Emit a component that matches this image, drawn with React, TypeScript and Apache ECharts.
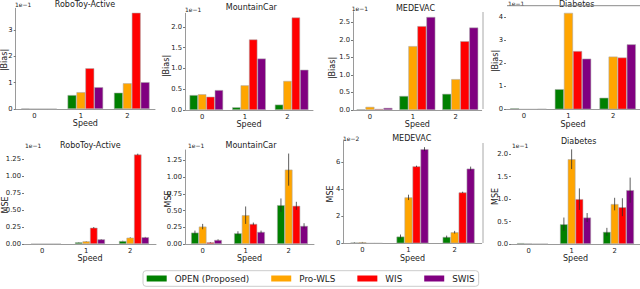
import React, { useEffect, useRef } from "react";
import * as echarts from "echarts";

const FONT = "DejaVu Sans";
const speeds = ["0", "1", "2"];
const methods = ["OPEN (Proposed)", "Pro-WLS", "WIS", "SWIS"];
const methodColors = ["#008000", "#ffa500", "#ff0000", "#800080"];

// |Bias| values (x 1e-1), rows = methods, columns = speeds
const roboToyBias = [[0.02, 0.53, 0.62], [0, 0.64, 0.98], [0, 1.55, 3.66], [0, 0.83, 1.02]];
const mountainCarBias = [[0.36, 0.065, 0.13], [0.38, 0.595, 0.7], [0.32, 1.7, 2.23], [0.48, 1.24, 0.97]];
const medevacBias = [[0.02, 0.4, 0.46], [0.09, 1.82, 0.88], [0.03, 2.39, 1.96], [0.06, 2.65, 2.35]];
const diabetesBias = [[0.04, 0.87, 0.5], [0, 4.17, 2.28], [0, 2.52, 2.24], [0.01, 2.19, 2.81]];

// MSE values and error half-widths
const roboToyMse = [[0, 0.025, 0.044], [0, 0.04, 0.093], [0, 0.24, 1.32], [0, 0.069, 0.1]];
const roboToyMseErr = [[0, 0.003, 0.004], [0, 0.003, 0.005], [0, 0.01, 0.012], [0, 0.004, 0.005]];
const mountainCarMse = [[0.17, 0.16, 0.58], [0.26, 0.43, 1.11], [0.025, 0.3, 0.57], [0.06, 0.18, 0.27]];
const mountainCarMseErr = [[0.03, 0.03, 0.1], [0.04, 0.13, 0.24], [0.005, 0.02, 0.06], [0.01, 0.02, 0.04]];
const medevacMse = [[0.05, 0.5, 0.47], [0.08, 3.4, 0.82], [0, 5.7, 3.77], [0, 6.97, 5.53]];
const medevacMseErr = [[0.02, 0.15, 0.1], [0.02, 0.2, 0.1], [0, 0.05, 0.05], [0, 0.15, 0.15]];
const diabetesMse = [[0.02, 0.44, 0.27], [0.01, 1.89, 0.89], [0, 1.0, 0.82], [0, 0.59, 1.2]];
const diabetesMseErr = [[0, 0.15, 0.09], [0, 0.22, 0.14], [0, 0.24, 0.2], [0, 0.1, 0.28]];

// y tick labels
const ticksInt4 = [0, 1, 2, 3];
const ticksHalf20 = [0, 0.5, 1, 1.5, 2];
const ticksHalf25 = [0, 0.5, 1, 1.5, 2, 2.5];
const ticksInt5 = [0, 1, 2, 3, 4];
const ticksQuarter = [0, 0.25, 0.5, 0.75, 1, 1.25];
const ticksEven = [0, 2, 4, 6];

const titles = ["RoboToy-Active", "MountainCar", "MEDEVAC", "Diabetes", "RoboToy-Active", "MountainCar", "MEDEVAC", "Diabetes"];
const yNames = ["|Bias|", "|Bias|", "|Bias|", "|Bias|", "MSE", "MSE", "MSE", "MSE"];
const scaleLabels = ["1e\u22121", "1e\u22121", "1e\u22121", "1e\u22121", "1e\u22121", "1e\u22121", "1e\u22122", "1e\u22121"];

const panelValues = [roboToyBias, mountainCarBias, medevacBias, diabetesBias, roboToyMse, mountainCarMse, medevacMse, diabetesMse];
const panelErrors = [null, null, null, null, roboToyMseErr, mountainCarMseErr, medevacMseErr, diabetesMseErr];
const panelTicks = [ticksInt4, ticksHalf20, ticksHalf25, ticksInt5, ticksQuarter, ticksQuarter, ticksEven, ticksHalf20];
const panelDecimals = [0, 1, 1, 0, 2, 2, 0, 1];

// layout (px)
const layout = [
  { left: 15.7, top: 8.3, width: 139.3, height: 100.7, max: 3.83, bw: 8.9, spine: true, tx: 85, ty: 4.8, sx: 15, sy: 4.5, nx: 4, ny: 60 },
  { left: 185, top: 13.3, width: 128, height: 96.7, max: 2.33, bw: 8.4, spine: true, tx: 251.3, ty: 7.5, sx: 185, sy: 9.3, nx: 166, ny: 66 },
  { left: 353, top: 11.7, width: 128.7, height: 98.3, max: 2.8, bw: 9, spine: true, tx: 415.5, ty: 8.3, sx: 351.7, sy: 8.3, nx: 332, ny: 68 },
  { left: 506, top: 5.7, width: 138, height: 103.6, max: 4.48, bw: 9.1, spine: false, tx: 576.7, ty: 4.8, sx: 508, sy: 3.6, nx: 495, ny: 61 },
  { left: 24, top: 150, width: 132, height: 94, max: 1.386, bw: 7.5, spine: false, tx: 90.3, ty: 145, sx: 25, sy: 145.7, nx: 5, ny: 205 },
  { left: 185, top: 150, width: 129, height: 94, max: 1.403, bw: 7.7, spine: true, tx: 251, ty: 145, sx: 188, sy: 145.7, nx: 168, ny: 199 },
  { left: 343.3, top: 140, width: 138.4, height: 103.3, max: 7.65, bw: 8, spine: true, tx: 411.7, ty: 138.3, sx: 343, sy: 138.3, nx: 330, ny: 194 },
  { left: 511, top: 148, width: 135, height: 96, max: 2.14, bw: 7.75, spine: false, tx: 578.7, ty: 141.7, sx: 512, sy: 145, nx: 495, ny: 196.5 },
];

function buildOption() {
  const grid: any[] = [];
  const xAxis: any[] = [];
  const yAxis: any[] = [];
  const series: any[] = [];
  const graphic: any[] = [];

  layout.forEach((L, gi) => {
    grid.push({ left: L.left, top: L.top, width: L.width, height: L.height, containLabel: false });
    xAxis.push({
      type: "category",
      gridIndex: gi,
      data: speeds,
      axisLine: { show: true, lineStyle: { color: "#9a9a9a", width: 1 } },
      axisTick: { show: false },
      axisLabel: { fontSize: 6.8, fontFamily: FONT, color: "#222", margin: 3, padding: [0, L.bw, 0, 0] },
      name: "Speed",
      nameLocation: "middle",
      nameGap: 8,
      nameTextStyle: { fontSize: 8, fontFamily: FONT, color: "#222" },
    });
    const dec = panelDecimals[gi];
    yAxis.push({
      type: "value",
      gridIndex: gi,
      min: 0,
      max: L.max,
      axisLine: { show: L.spine, lineStyle: { color: "#9a9a9a", width: 1 } },
      axisTick: { show: true, length: 2, lineStyle: { color: "#777" }, customValues: panelTicks[gi] },
      axisLabel: {
        customValues: panelTicks[gi],
        formatter: (v: number) => Number(v).toFixed(dec),
        fontSize: 6.8,
        fontFamily: FONT,
        color: "#222",
        margin: 3,
      },
      splitLine: { show: false },
    });
    const vals = panelValues[gi];
    vals.forEach((arr, m) => {
      series.push({
        type: "bar",
        name: methods[m],
        xAxisIndex: gi,
        yAxisIndex: gi,
        data: arr,
        barWidth: L.bw,
        barGap: "0%",
        itemStyle: { color: methodColors[m], borderColor: "rgba(170,170,170,0.9)", borderWidth: 0.6 },
        emphasis: { disabled: true },
        silent: true,
      });
    });
    const errs = panelErrors[gi];
    if (errs) {
      const data: any[] = [];
      vals.forEach((arr, m) => arr.forEach((v, c) => data.push([c, v, errs[m][c], m])));
      const bw = L.bw;
      series.push({
        type: "custom",
        xAxisIndex: gi,
        yAxisIndex: gi,
        z: 5,
        silent: true,
        encode: { x: 0, y: 1 },
        data,
        renderItem: (params: any, api: any) => {
          const c = api.value(0);
          const v = api.value(1);
          const e = api.value(2);
          const m = api.value(3);
          if (!e) return { type: "group", children: [] };
          const top = api.coord([c, v + e]);
          const bot = api.coord([c, Math.max(0, v - e)]);
          const x = top[0] + (m - 1.5) * bw;
          return {
            type: "line",
            shape: { x1: x, y1: top[1], x2: x, y2: bot[1] },
            style: { stroke: "rgba(40,40,40,0.75)", lineWidth: 1 },
          };
        },
      });
    }
    graphic.push({
      type: "text",
      x: L.tx,
      y: L.ty,
      style: { text: titles[gi], fontSize: 8, fontFamily: FONT, fill: "#222", align: "center", verticalAlign: "middle", textAlign: "center", textVerticalAlign: "middle" },
    });
    graphic.push({
      type: "text",
      x: L.sx,
      y: L.sy,
      style: { text: scaleLabels[gi], fontSize: 6, fontFamily: FONT, fill: "#222", align: "left", verticalAlign: "middle", textAlign: "left", textVerticalAlign: "middle" },
    });
    graphic.push({
      type: "text",
      x: L.nx,
      y: L.ny,
      rotation: Math.PI / 2,
      style: { text: yNames[gi], fontSize: 8, fontFamily: FONT, fill: "#222", align: "center", verticalAlign: "middle", textAlign: "center", textVerticalAlign: "middle" },
    });
  });

  graphic.push({ type: "line", shape: { x1: 483, y1: 12, x2: 483, y2: 109 }, style: { stroke: "#a8a8a8", lineWidth: 1 } });
  graphic.push({ type: "line", shape: { x1: 483, y1: 143, x2: 483, y2: 243 }, style: { stroke: "#a8a8a8", lineWidth: 1 } });
  graphic.push({ type: "line", shape: { x1: 507, y1: 5.7, x2: 640, y2: 5.7 }, style: { stroke: "#8a8a8a", lineWidth: 1 } });

  return {
    animation: false,
    textStyle: { fontFamily: FONT },
    grid,
    xAxis,
    yAxis,
    series,
    graphic,
    legend: {
      data: methods,
      left: 143,
      top: 270.7,
      orient: "horizontal",
      icon: "rect",
      itemWidth: 20,
      itemHeight: 6,
      itemGap: 22,
      padding: [3.3, 4, 3.3, 3.7],
      borderColor: "#cccccc",
      borderWidth: 1,
      borderRadius: 3,
      selectedMode: false,
      itemStyle: { borderWidth: 0 },
      textStyle: { fontSize: 8.8, fontFamily: FONT, color: "#222", padding: [0, 0, 0, 3] },
    },
  };
}

export default function App() {
  const ref = useRef<HTMLDivElement>(null);
  useEffect(() => {
    document.body.style.margin = "0";
    if (!ref.current) return;
    const chart = echarts.init(ref.current, undefined, { renderer: "svg" });
    chart.setOption(buildOption() as any);
    return () => chart.dispose();
  }, []);
  return <div ref={ref} style={{ width: 640, height: 289, background: "#fff" }} />;
}
